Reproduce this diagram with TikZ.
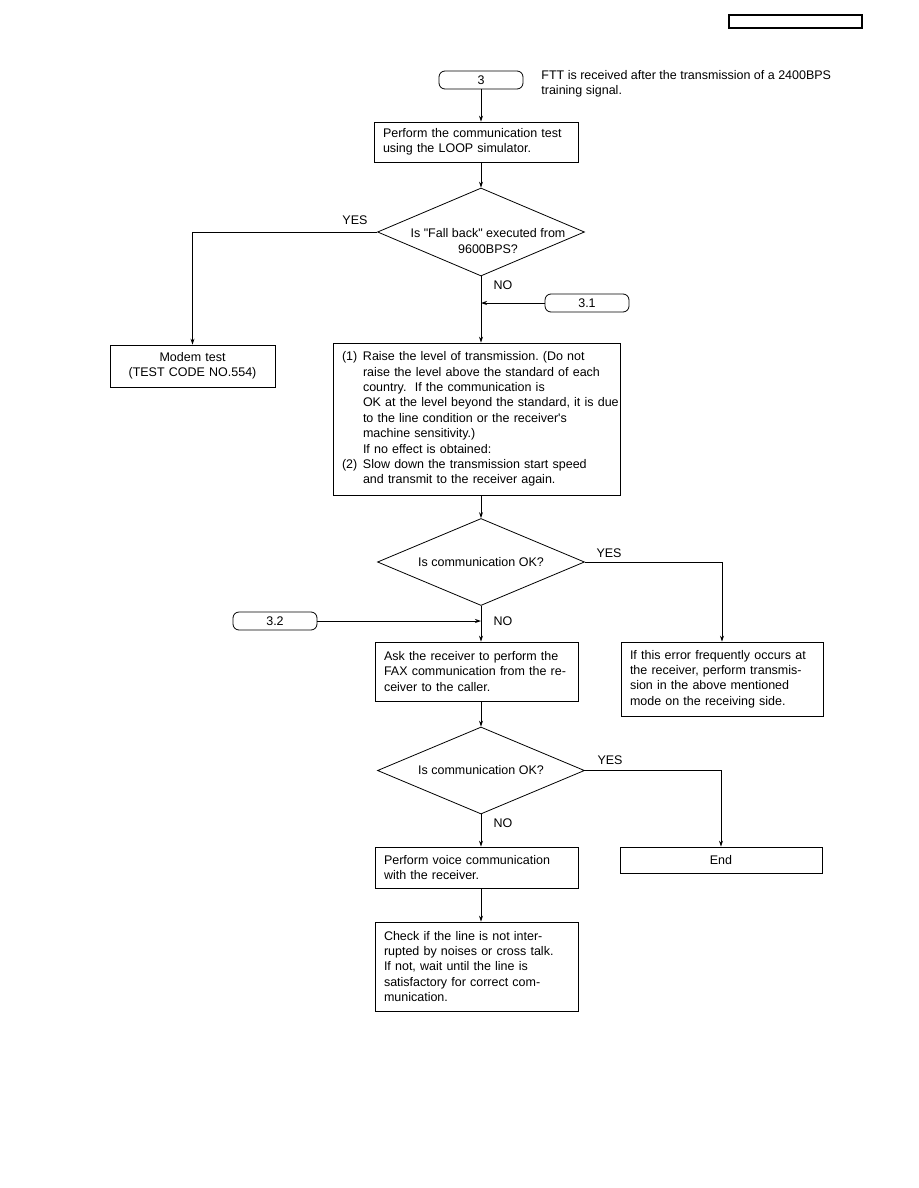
\documentclass[tikz,border=0pt]{standalone}
\usepackage{fontspec}
\setmainfont{Liberation Sans}[Ligatures=TeXOff]
\usetikzlibrary{shapes.geometric,arrows.meta}

\begin{document}
\begin{tikzpicture}[
    x=1pt,
    y=-1pt,
    >={Stealth[length=6pt,width=4pt]},
    font=\fontsize{12.5}{15.4}\selectfont\frenchspacing,
    line width=0.8pt,
    caja/.style={draw,align=left,inner xsep=9pt,inner ysep=0pt},
    rombo/.style={draw,diamond,minimum width=207pt,minimum height=87pt,inner sep=0pt},
    enlace/.style={draw,rounded corners=6pt,minimum width=84pt,minimum height=18pt,inner sep=0pt},
    flujo/.style={->},
    nota/.style={inner sep=0pt}
]
    \useasboundingbox (0,0) rectangle (918,1188);

    \node[draw,line width=1.1pt,minimum width=133pt,minimum height=13pt,inner sep=0pt]
        (cabecera) at (795.5,21.5) {};

    \node[enlace] (n3) at (481,80) {3};
    \node[nota,anchor=north west,align=left] (ftt) at (541,70)
        {FTT is received after the transmission of a 2400BPS\\training signal.};

    \node[caja,text width=186pt,minimum height=40pt] (prueba) at (476,142)
        {Perform the communication test\\using the LOOP simulator.};

    \node[rombo,minimum height=88pt,
        label={[align=center,xshift=7pt,yshift=-9pt]center:Is "Fall back" executed from\\9600BPS?}]
        (rombo1) at (481,232) {};
    \node[nota] (si1) at (355,220) {YES};
    \node[nota] (no1) at (503,285) {NO};

    \node[caja,align=center,text width=147pt,minimum height=42pt] (modem) at (192.5,366)
        {Modem test\\(TEST CODE NO.554)};

    \node[enlace] (n31) at (587,303) {3.1};

    \node[caja,text width=269pt,minimum height=152pt] (ajuste) at (476.5,419)
        {\makebox[21pt][l]{(1)}Raise the level of transmission. (Do not\\
         \hspace*{21pt}raise the level above the standard of each\\
         \hspace*{21pt}country.\ \ If the communication is\\
         \mbox{\hspace*{21pt}OK at the level beyond the standard, it is due}\\
         \hspace*{21pt}to the line condition or the receiver's\\
         \hspace*{21pt}machine sensitivity.)\\
         \hspace*{21pt}If no effect is obtained:\\
         \makebox[21pt][l]{(2)}Slow down the transmission start speed\\
         \hspace*{21pt}and transmit to the receiver again.};

    \node[rombo,label={center:Is communication OK?}]
        (rombo2) at (481,562) {};
    \node[nota] (si2) at (609,553) {YES};
    \node[nota] (no2) at (503,621) {NO};

    \node[caja,text width=184pt,minimum height=74pt] (aviso) at (722,679)
        {If this error frequently occurs at\\the receiver, perform transmis-\\sion in the above mentioned\\mode on the receiving side.};

    \node[enlace] (n32) at (275,621) {3.2};

    \node[caja,text width=185pt,minimum height=59pt] (pedir) at (476.5,671.5)
        {Ask the receiver to perform the\\FAX communication from the re-\\ceiver to the caller.};

    \node[rombo,label={center:Is communication OK?}]
        (rombo3) at (481,770.5) {};
    \node[nota] (si3) at (610,760) {YES};
    \node[nota] (no3) at (503,823) {NO};

    \node[caja,align=center,text width=184pt,minimum height=26pt] (fin) at (721,860) {End};

    \node[caja,text width=185pt,minimum height=41pt] (voz) at (476.5,867.5)
        {Perform voice communication\\with the receiver.};

    \node[caja,text width=185pt,minimum height=89pt] (revisar) at (476.5,966.5)
        {Check if the line is not inter-\\rupted by noises or cross talk.\\If not, wait until the line is\\satisfactory for correct com-\\munication.};

    % conexiones
    \draw[flujo] (n3.south) -- (n3.south |- prueba.north);
    \draw[flujo] (rombo1.north |- prueba.south) -- (rombo1.north);
    \draw[flujo] (rombo1.west) -- (modem.north |- rombo1.west) -- (modem.north);
    \draw[flujo] (rombo1.south) -- (rombo1.south |- ajuste.north);
    \draw[flujo] (n31.west) -- (rombo1.south |- n31.west);
    \draw[flujo] (rombo2.north |- ajuste.south) -- (rombo2.north);
    \draw[flujo] (rombo2.east) -- (aviso.north |- rombo2.east) -- (aviso.north);
    \draw[flujo] (rombo2.south) -- (rombo2.south |- pedir.north);
    \draw[flujo] (n32.east) -- (rombo2.south |- n32.east);
    \draw[flujo] (rombo3.north |- pedir.south) -- (rombo3.north);
    \draw[flujo] (rombo3.east) -- (fin.north |- rombo3.east) -- (fin.north);
    \draw[flujo] (rombo3.south) -- (rombo3.south |- voz.north);
    \draw[flujo] (rombo3.south |- voz.south) -- (rombo3.south |- revisar.north);
\end{tikzpicture}
\end{document}
